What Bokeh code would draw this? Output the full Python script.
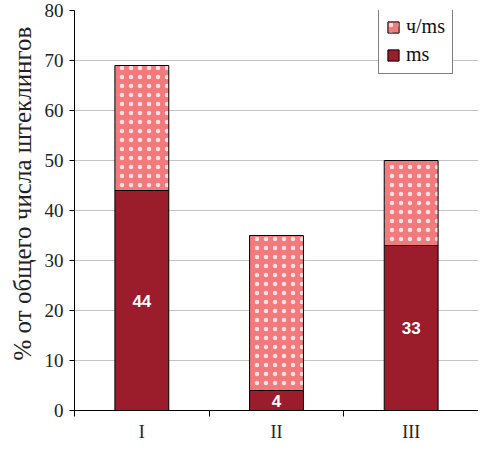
from bokeh.plotting import figure
from bokeh.models import ColumnDataSource, FixedTicker, Legend, LegendItem, Title
from bokeh.core.properties import value
from bokeh.embed import file_html
from bokeh.resources import INLINE

categories = ["I", "II", "III"]
ms = [44, 4, 33]
ch_ms = [25, 31, 17]
y_ticks = [0, 10, 20, 30, 40, 50, 60, 70, 80]
y_title = "% от общего числа штеклингов"

xs = [i + 1 for i in range(len(categories))]
tops = [a + b for a, b in zip(ms, ch_ms)]
src = ColumnDataSource(dict(
    x=xs, ms=ms, top=tops,
    mid=[v / 2 for v in ms],
    lbl=[str(v) for v in ms],
))

p = figure(width=478, height=444, output_backend="svg", toolbar_location=None,
           x_range=(0.5, 3.5), y_range=(0, 80),
           min_border_left=74, min_border_right=0, min_border_top=10, min_border_bottom=30)
p.outline_line_color = None
p.background_fill_color = "white"

serif = "Liberation Serif"
dark = "#9b1c2b"
pink = "#f27a7d"

r_ms = p.vbar(x="x", bottom=0, top="ms", width=0.4, source=src,
              fill_color=dark, line_color="black", line_width=1)
r_ch = p.vbar(x="x", bottom="ms", top="top", width=0.4, source=src,
              fill_color=pink, line_color="black", line_width=1,
              hatch_pattern="dot", hatch_color="#ffe0e0", hatch_scale=9, hatch_weight=1.3)

p.text(x="x", y="mid", text="lbl", source=src, text_color="white",
       text_font=value("Liberation Sans"), text_font_style="bold",
       text_font_size="17px", text_align="center", text_baseline="middle")

p.xgrid.grid_line_color = None
p.ygrid.grid_line_color = "#c4c4c4"
p.ygrid.grid_line_width = 1
p.ygrid.ticker = FixedTicker(ticks=y_ticks)

p.yaxis.ticker = FixedTicker(ticks=y_ticks, minor_ticks=[])
p.yaxis.major_tick_out = 5
p.yaxis.major_tick_in = 0
p.yaxis.minor_tick_line_color = None
p.yaxis.axis_line_color = "black"
p.yaxis.major_tick_line_color = "black"
p.yaxis.major_label_text_font = serif
p.yaxis.major_label_text_font_size = "19px"
p.yaxis.major_label_text_color = "#222222"
p.yaxis.major_label_standoff = 6

p.xaxis.ticker = FixedTicker(ticks=xs, minor_ticks=[0.5, 1.5, 2.5, 3.5])
p.xaxis.major_label_overrides = {x: c for x, c in zip(xs, categories)}
p.xaxis.major_tick_out = 0
p.xaxis.major_tick_in = 0
p.xaxis.minor_tick_out = 6
p.xaxis.minor_tick_in = 0
p.xaxis.minor_tick_line_color = "black"
p.xaxis.axis_line_color = "black"
p.xaxis.major_label_text_font = serif
p.xaxis.major_label_text_font_size = "18px"
p.xaxis.major_label_text_color = "#222222"
p.xaxis.major_label_standoff = 5

# rotated y-axis title on the left, shifted toward the top like the original
t = Title(text=y_title, align="left", offset=50,
          text_font=serif, text_font_size="25px", text_font_style="normal",
          text_color="#222222", standoff=12)
p.add_layout(t, "left")

legend = Legend(items=[LegendItem(label="ч/ms", renderers=[r_ch]),
                       LegendItem(label="ms", renderers=[r_ms])],
                location=(304, 336))
legend.border_line_color = "black"
legend.border_line_width = 1
legend.label_text_font = serif
legend.label_text_font_size = "20px"
legend.label_text_color = "#111111"
legend.glyph_width = 14
legend.glyph_height = 14
legend.padding = 7
legend.spacing = 5
legend.label_standoff = 6
legend.background_fill_alpha = 1
p.add_layout(legend, "center")

open("out.html", "w").write(file_html(p, INLINE))
